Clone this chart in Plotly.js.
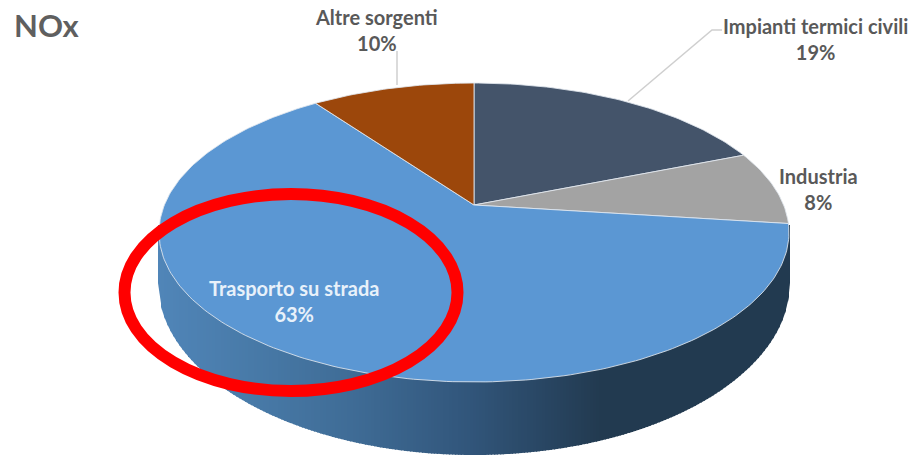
<!DOCTYPE html>
<html>
<head>
<meta charset="utf-8">
<script src="https://cdn.plot.ly/plotly-3.0.1.min.js"></script>
<style>html,body{margin:0;padding:0;background:#fff}#c{width:916px;height:457px}</style>
</head>
<body>
<div id="c"></div>
<script>
// Data, clockwise from 12 o'clock
const categories = ["Impianti termici civili", "Industria", "Trasporto su strada", "Altre sorgenti"];
const shares = [19, 8, 63, 10];
const sliceColors = ["#44546a", "#a3a3a3", "#5b97d3", "#9c470b"];
const chartTitle = "NOx";

// Perspective projection of the pie disc into chart coordinates
const view = {cx: 474, cy: 232, a: 309.6, b: 149.4, apex: 27, k: 0.184};
function project(u, v) {
  const d = 1 + view.k * v;
  return [view.cx + view.a * u / d, view.cy - (view.b * v + view.apex) / d];
}
function rim(deg) {
  const t = deg * Math.PI / 180;
  return project(Math.sin(t), Math.cos(t));
}

const traces = [];

// Extruded side: vertical bands shaded left to right
const side = {a: 316, cy: 283, b: 172, x0: 158, x1: 790, step: 3};
const shade = [[158, [80, 133, 184]], [250, [72, 122, 168]], [350, [63, 108, 150]],
               [470, [49, 85, 122]], [600, [34, 58, 80]], [790, [34, 58, 80]]];
function shadeAt(x) {
  for (let i = 1; i < shade.length; i++) {
    if (x <= shade[i][0]) {
      const f = (x - shade[i - 1][0]) / (shade[i][0] - shade[i - 1][0]);
      const c = shade[i - 1][1].map((s, j) => Math.round(s + (shade[i][1][j] - s) * f));
      return `rgb(${c[0]},${c[1]},${c[2]})`;
    }
  }
  return "rgb(34,58,80)";
}
function edge(x) {
  const n = Math.min(1, Math.abs(x - view.cx) / side.a);
  return side.cy + side.b * Math.sqrt(1 - n * n);
}
for (let x = side.x0; x < side.x1; x += side.step) {
  const xr = Math.min(x + side.step + 1, side.x1);
  traces.push({
    type: "scatter", mode: "lines", hoverinfo: "skip", showlegend: false,
    x: [x, xr, xr, x, x], y: [225, 225, edge(xr), edge(x), 225],
    fill: "toself", fillcolor: shadeAt(x), line: {width: 0}
  });
}

// Top face: one wedge per category, angle taken from its share
const total = shares.reduce((s, v) => s + v, 0);
let start = 0;
shares.forEach((value, i) => {
  const end = start + value / total * 360;
  const xs = [view.cx], ys = [project(0, 0)[1]];
  for (let d = start; d < end; d += 1) {
    const p = rim(d); xs.push(p[0]); ys.push(p[1]);
  }
  const p = rim(end); xs.push(p[0]); ys.push(p[1]);
  xs.push(view.cx); ys.push(project(0, 0)[1]);
  traces.push({
    type: "scatter", mode: "lines", name: categories[i], hoverinfo: "name", showlegend: false,
    x: xs, y: ys, fill: "toself", fillcolor: sliceColors[i],
    line: {color: "rgba(226,232,238,0.85)", width: 1}
  });
  start = end;
});

// Leader lines
const leaderColor = "#cfcfcf";
traces.push({type: "scatter", mode: "lines", hoverinfo: "skip", showlegend: false,
  x: [397, 397], y: [85, 51], line: {color: leaderColor, width: 1.5}});
traces.push({type: "scatter", mode: "lines", hoverinfo: "skip", showlegend: false,
  x: [628, 712, 722], y: [101, 30, 30], line: {color: leaderColor, width: 1.5}});

const labelPlace = [[815, 39], [818, 189], [294, 301], [376, 30]];
const labelColor = ["#595959", "#595959", "#e8f1fa", "#595959"];
const labelSize = 20;
const annotations = categories.map((name, i) => ({
  x: labelPlace[i][0], y: labelPlace[i][1], xref: "x", yref: "y",
  text: name + "<br>" + shares[i] + "%", showarrow: false,
  align: "center", xanchor: "center", yanchor: "middle",
  font: {family: "Lato, 'Open Sans', sans-serif", size: labelSize, color: labelColor[i], weight: 700}
}));
annotations.push({
  x: 12, y: 25, xref: "x", yref: "y", text: "<b>" + chartTitle + "</b>", showarrow: false,
  xanchor: "left", yanchor: "middle",
  font: {family: "Lato, 'Open Sans', sans-serif", size: 31, color: "#5f5f5f"}
});

const layout = {
  width: 916, height: 457,
  margin: {l: 0, r: 0, t: 0, b: 0},
  paper_bgcolor: "#fff", plot_bgcolor: "#fff",
  showlegend: false,
  xaxis: {range: [0, 916], visible: false, fixedrange: true},
  yaxis: {range: [457, 0], visible: false, fixedrange: true},
  annotations: annotations,
  shapes: [{type: "circle", xref: "x", yref: "y", x0: 124.5, x1: 457.5, y0: 194, y1: 391,
            line: {color: "#ff0000", width: 12}, layer: "above"}]
};
Plotly.newPlot("c", traces, layout, {displayModeBar: false, staticPlot: true});
</script>
</body>
</html>
